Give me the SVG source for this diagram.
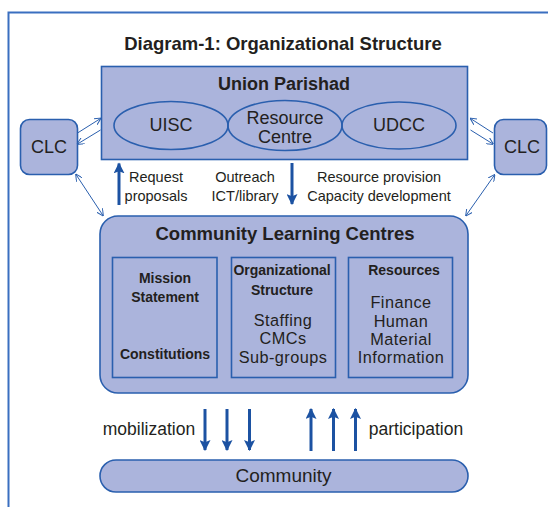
<svg xmlns="http://www.w3.org/2000/svg" width="548" height="507" viewBox="0 0 548 507">
<style>
.box{fill:#abb4dc;stroke:#2a5fae;stroke-width:1.6}
.ell{fill:none;stroke:#2a5fae;stroke-width:1.6}
.t{font-family:"Liberation Sans",Arial,sans-serif;fill:#231f20;text-anchor:middle}
.b{font-weight:bold}
.in{font-size:16.3px;letter-spacing:0.45px}
.thin{stroke:#2a5fae;stroke-width:1;fill:none}
.thick{stroke:#1c52a2;stroke-width:3;fill:none}
</style>
<defs>
<marker id="ah" viewBox="0 0 10 10" refX="9" refY="5" markerWidth="7" markerHeight="7" markerUnits="userSpaceOnUse" orient="auto-start-reverse"><path d="M0,0 L10,5 L0,10" fill="none" stroke="#2a5fae" stroke-width="1.4"/></marker>
<marker id="big" viewBox="0 0 10 10" refX="9" refY="5" markerWidth="11" markerHeight="11" markerUnits="userSpaceOnUse" orient="auto"><path d="M0,0 L10,5 L0,10 L2,5 Z" fill="#1c52a2"/></marker>
</defs>
<rect x="8.5" y="12.5" width="560" height="520" fill="#fff" stroke="#3a6fc0" stroke-width="2"/>
<text class="t b" x="283" y="50" font-size="18.5">Diagram-1: Organizational Structure</text>

<g id="union-parishad">
<rect class="box" x="101.5" y="66.5" width="366" height="93"/>
<text class="t b" x="284" y="90" font-size="18">Union Parishad</text>
</g>
<g id="uisc">
<ellipse class="ell" cx="171" cy="125.5" rx="57" ry="24"/>
<text class="t" x="171" y="131" font-size="18">UISC</text>
</g>
<g id="resource-centre">
<ellipse class="ell" cx="285" cy="125.5" rx="57" ry="25"/>
<text class="t" x="285" y="123.5" font-size="18">Resource</text>
<text class="t" x="285" y="143" font-size="18">Centre</text>
</g>
<g id="udcc">
<ellipse class="ell" cx="399" cy="125.5" rx="57" ry="23.5"/>
<text class="t" x="399" y="131" font-size="18">UDCC</text>
</g>

<g id="clc-left">
<rect class="box" x="20.5" y="119.5" width="57" height="55" rx="9"/>
<text class="t" x="49" y="153" font-size="18">CLC</text>
</g>
<g id="clc-right">
<rect class="box" x="494.5" y="119.5" width="52" height="55" rx="9"/>
<text class="t" x="522" y="153" font-size="18">CLC</text>
</g>

<g id="clc-main">
<rect class="box" x="100" y="216" width="368" height="177" rx="18"/>
<text class="t b" x="285" y="240" font-size="18.5">Community Learning Centres</text>
</g>
<g id="mission">
<rect class="box" x="112.5" y="257.5" width="104.5" height="120"/>
<text class="t b" x="165" y="282.5" font-size="14">Mission</text>
<text class="t b" x="165" y="301.5" font-size="14">Statement</text>
<text class="t b" x="165" y="359" font-size="14">Constitutions</text>
</g>
<g id="org-structure">
<rect class="box" x="231.5" y="257.5" width="104" height="120"/>
<text class="t b" x="282" y="275" font-size="14">Organizational</text>
<text class="t b" x="282" y="294.5" font-size="14">Structure</text>
<text class="t in" x="283" y="326">Staffing</text>
<text class="t in" x="283" y="344">CMCs</text>
<text class="t in" x="283" y="362.5">Sub-groups</text>
</g>
<g id="resources">
<rect class="box" x="348.5" y="257.5" width="104" height="120"/>
<text class="t b" x="404" y="274.5" font-size="14">Resources</text>
<text class="t in" x="401" y="308">Finance</text>
<text class="t in" x="401" y="326.5">Human</text>
<text class="t in" x="401" y="344.5">Material</text>
<text class="t in" x="401" y="363">Information</text>
</g>

<g id="community">
<rect class="box" x="100" y="460" width="368" height="32" rx="16"/>
<text class="t" x="283.5" y="482" font-size="19">Community</text>
</g>

<g id="connectors">
<line class="thin" x1="77.5" y1="133" x2="100.5" y2="118.5" marker-end="url(#ah)"/>
<line class="thin" x1="100.5" y1="130" x2="77.5" y2="144" marker-end="url(#ah)"/>
<line class="thin" x1="493" y1="133" x2="470.5" y2="118.5" marker-end="url(#ah)"/>
<line class="thin" x1="470.5" y1="130" x2="493" y2="144" marker-end="url(#ah)"/>
<line class="thin" x1="76" y1="174.5" x2="103" y2="215.5" marker-start="url(#ah)" marker-end="url(#ah)"/>
<line class="thin" x1="494.5" y1="175" x2="466" y2="215.5" marker-start="url(#ah)" marker-end="url(#ah)"/>
<line class="thick" x1="119" y1="205" x2="119" y2="163.5" marker-end="url(#big)"/>
<line class="thick" x1="292" y1="163" x2="292" y2="204" marker-end="url(#big)"/>
<line class="thick" x1="205" y1="409" x2="205" y2="450" marker-end="url(#big)"/>
<line class="thick" x1="227" y1="409" x2="227" y2="450" marker-end="url(#big)"/>
<line class="thick" x1="249.5" y1="409" x2="249.5" y2="450" marker-end="url(#big)"/>
<line class="thick" x1="311" y1="451" x2="311" y2="409" marker-end="url(#big)"/>
<line class="thick" x1="333.5" y1="451" x2="333.5" y2="409" marker-end="url(#big)"/>
<line class="thick" x1="355.5" y1="451" x2="355.5" y2="409" marker-end="url(#big)"/>
</g>

<g id="labels">
<text class="t" x="156" y="181.5" font-size="14.5">Request</text>
<text class="t" x="156" y="200.5" font-size="14.5">proposals</text>
<text class="t" x="245" y="181.5" font-size="14.5">Outreach</text>
<text class="t" x="245" y="200.5" font-size="14.5">ICT/library</text>
<text class="t" x="379" y="181.5" font-size="14.5">Resource provision</text>
<text class="t" x="379" y="200.5" font-size="14.5">Capacity development</text>
<text class="t" x="149" y="435" font-size="17.5">mobilization</text>
<text class="t" x="416" y="435" font-size="17.5">participation</text>
</g>
</svg>
